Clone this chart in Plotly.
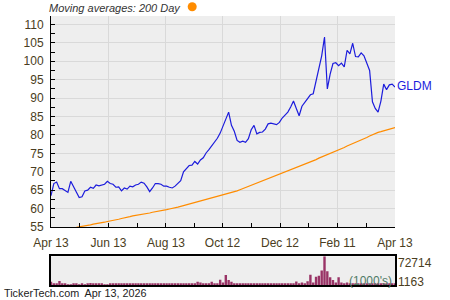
import plotly.graph_objects as go
import pandas as pd

W, H = 450, 300

# ---------------- data ----------------
start_date = "2025-04-13"
end_date = "2026-04-13"

price = [
    63.5, 66.8, 67.2, 65.4, 65.4, 65.0, 64.4, 67.4, 66.0, 64.4,
    63.0, 63.2, 64.8, 65.0, 65.8, 65.5, 66.4, 66.2, 66.4, 66.6,
    67.4, 66.8, 66.6, 65.8, 65.9, 64.8, 65.6, 65.3, 66.1, 65.9,
    66.4, 66.6, 67.2, 66.9, 65.9, 64.6, 65.6, 66.8, 66.8, 66.6,
    66.1, 66.1, 65.8, 65.6, 66.1, 66.9, 67.6, 70.0, 70.8, 71.7,
    71.8, 72.8, 72.1, 73.2, 73.8, 75.1, 76.0, 77.0, 78.2, 79.1,
    80.5, 82.3, 84.0, 86.2, 82.6, 81.0, 78.5, 78.0, 78.3, 78.0,
    79.0, 81.4, 82.6, 80.3, 80.7, 80.8, 81.6, 83.0, 83.2, 83.1,
    82.8, 83.4, 84.6, 85.4, 86.2, 87.6, 89.2, 87.2, 85.2, 87.8,
    88.9, 90.0, 90.9, 91.2, 94.6, 97.6, 101.5, 106.6, 92.5, 96.5,
    99.4, 99.6, 98.8, 99.5, 98.5, 103.0, 102.0, 104.9, 101.3, 101.2,
    102.3, 101.5, 99.3, 97.5, 89.0, 87.2, 86.2, 89.2, 93.8, 92.3,
    93.6, 93.8, 93.0,
]

ma_start_index = 9
ma200 = [
    54.9, 55.0, 55.2, 55.3, 55.5, 55.6, 55.8, 55.9, 56.0, 56.2,
    56.3, 56.5, 56.6, 56.8, 56.9, 57.1, 57.3, 57.4, 57.6, 57.8,
    58.0, 58.1, 58.2, 58.4, 58.5, 58.7, 58.8, 59.0, 59.1, 59.3,
    59.5, 59.6, 59.7, 59.9, 60.0, 60.2, 60.4, 60.6, 60.8, 61.0,
    61.2, 61.4, 61.6, 61.8, 62.0, 62.2, 62.4, 62.6, 62.8, 63.0,
    63.2, 63.4, 63.6, 63.8, 64.0, 64.2, 64.5, 64.8, 65.1, 65.4,
    65.7, 65.9, 66.2, 66.5, 66.8, 67.1, 67.4, 67.7, 68.0, 68.3,
    68.6, 68.9, 69.2, 69.5, 69.8, 70.1, 70.4, 70.8, 71.1, 71.4,
    71.7, 72.0, 72.3, 72.6, 72.9, 73.3, 73.7, 74.0, 74.3, 74.7,
    75.0, 75.3, 75.6, 76.0, 76.3, 76.6, 77.0, 77.3, 77.6, 77.9,
    78.2, 78.6, 78.9, 79.3, 79.7, 80.1, 80.4, 80.7, 80.9, 81.1,
    81.3, 81.5, 81.7, 82.0,
]

# volume in thousands
volume = [
    8600, 3000, 5200, 11000, 3000, 2600, 1163, 1300, 2600, 2600,
    1300, 2600, 2200, 2600, 6000, 2600, 2600, 2600, 5000, 1700,
    1700, 3400, 4300, 3000, 4300, 3400, 3400, 3400, 2600, 3400,
    5000, 2600, 2600, 2600, 2600, 3400, 2600, 2600, 4300, 2600,
    2600, 4300, 2600, 2600, 2600, 2600, 3400, 2600, 2600, 2600,
    2600, 3000, 8600, 6900, 2600, 3000, 2600, 8600, 5200, 3400,
    13800, 6900, 26000, 13000, 8600, 4300, 5200, 2600, 2600, 3000,
    2600, 3400, 5200, 3000, 2600, 3000, 3400, 4300, 2600, 3000,
    3400, 2600, 3000, 3400, 2600, 3400, 4300, 9500, 5200, 6900,
    5200, 10000, 26700, 6900, 21500, 24000, 37000, 72714, 35000, 20000,
    13000, 6900, 20000, 6900, 5200, 6900, 4300, 3400, 3400, 4300,
    3400, 3000, 3400, 5200, 3400, 3000, 4300, 3400, 3000, 5200,
    3400, 3000, 3400,
]

tick_dates = ["2025-04-13", "2025-06-13", "2025-08-13", "2025-10-12",
              "2025-12-12", "2026-02-11", "2026-04-13"]
tick_labels = ["Apr 13", "Jun 13", "Aug 13", "Oct 12", "Dec 12", "Feb 11", "Apr 13"]
y_ticks = [55, 60, 65, 70, 75, 80, 85, 90, 95, 100, 105, 110]

ticker = "GLDM"
vol_max_label = "72714"
vol_min_label = "1163"

# ---------------- figure ----------------
dates = pd.date_range(start_date, end_date, periods=len(price))
td = pd.to_datetime(tick_dates)
minor_dates = [td[i] + (td[i + 1] - td[i]) / 2 for i in range(len(td) - 1)]


def px(x):
    return x / W


def py(y):
    return 1 - y / H


FONT = "Liberation Sans, Arial, sans-serif"
LABEL_COLOR = "#4a3d21"

fig = go.Figure()
fig.add_trace(go.Scatter(x=dates, y=price, mode="lines",
                         line=dict(color="#1c1cdc", width=1.2),
                         xaxis="x", yaxis="y", hoverinfo="skip"))
fig.add_trace(go.Scatter(x=dates[ma_start_index:], y=ma200, mode="lines",
                         line=dict(color="#ff8c00", width=1.2),
                         xaxis="x", yaxis="y", hoverinfo="skip"))
fig.add_trace(go.Bar(x=dates, y=volume, marker_color="#993366",
                     marker_line_width=0, xaxis="x2", yaxis="y2",
                     hoverinfo="skip"))

x_range = [pd.Timestamp(start_date), pd.Timestamp(end_date)]

fig.update_layout(
    width=W, height=H,
    margin=dict(l=0, r=0, t=0, b=0, pad=0, autoexpand=False),
    paper_bgcolor="white",
    plot_bgcolor="#eeeeee",
    showlegend=False,
    bargap=0.15,
    font=dict(family=FONT, size=12, color=LABEL_COLOR),
    xaxis=dict(
        domain=[px(51), px(395)], anchor="y", range=x_range, automargin=False,
        tickmode="array", tickvals=td, ticktext=tick_labels,
        ticks="inside", ticklen=4, tickcolor="black",
        showgrid=True, gridcolor="#d9d9d9", gridwidth=1,
        showline=True, linecolor="black", linewidth=1,
        zeroline=False, ticklabelstandoff=5,
        tickfont=dict(size=12, color=LABEL_COLOR),
        minor=dict(tickmode="array", tickvals=minor_dates, ticks="inside",
                   ticklen=4, tickcolor="black", showgrid=False),
    ),
    yaxis=dict(
        domain=[py(227), py(16)], anchor="x", range=[55, 112.3], automargin=False,
        tickmode="array", tickvals=y_ticks,
        ticks="inside", ticklen=4, tickcolor="black",
        showgrid=True, gridcolor="#d9d9d9", gridwidth=1,
        showline=True, linecolor="black", linewidth=1,
        zeroline=False, ticklabelstandoff=4,
        tickfont=dict(size=12, color=LABEL_COLOR),
        minor=dict(dtick=2.5, tick0=55, ticks="inside", ticklen=4,
                   tickcolor="black", showgrid=False),
    ),
    xaxis2=dict(
        domain=[px(51), px(395)], anchor="y2", range=x_range, automargin=False,
        showticklabels=False, ticks="", showgrid=False, zeroline=False,
        showline=True, mirror=True, linecolor="black", linewidth=1.5,
    ),
    yaxis2=dict(
        domain=[py(285.3), py(256.3)], anchor="x2", range=[0, max(volume)],
        automargin=False,
        showticklabels=False, ticks="", showgrid=False, zeroline=False,
        showline=True, mirror=True, linecolor="black", linewidth=1.5,
    ),
)

# annotations are centred on their measured positions in the reference
annotations = [
    dict(text="<i>Moving averages: 200 Day</i>", x=px(115), y=py(8),
         font=dict(size=11, color="#333333")),
    dict(text=ticker, x=px(414), y=py(86),
         font=dict(size=12, color="#1c1cdc")),
    dict(text=vol_max_label, x=px(414.5), y=py(262.5),
         font=dict(size=12, color=LABEL_COLOR)),
    dict(text=vol_min_label, x=px(411), y=py(281.5),
         font=dict(size=12, color=LABEL_COLOR)),
    dict(text="(1000's)", x=px(370), y=py(280.5),
         font=dict(size=12, color="#4f7a66")),
    dict(text="TickerTech.com  Apr 13, 2026", x=px(75), y=py(293),
         font=dict(size=10.8, color="#222222")),
]
for a in annotations:
    a.update(xref="paper", yref="paper", showarrow=False,
             xanchor="center", yanchor="middle", borderpad=0)
fig.update_layout(annotations=annotations)

fig.add_shape(type="circle", xref="paper", yref="paper",
              x0=px(187.7), x1=px(196.7), y0=py(11.3), y1=py(2.3),
              fillcolor="#ff8c00", line=dict(width=0))

fig.write_html("out.html")
